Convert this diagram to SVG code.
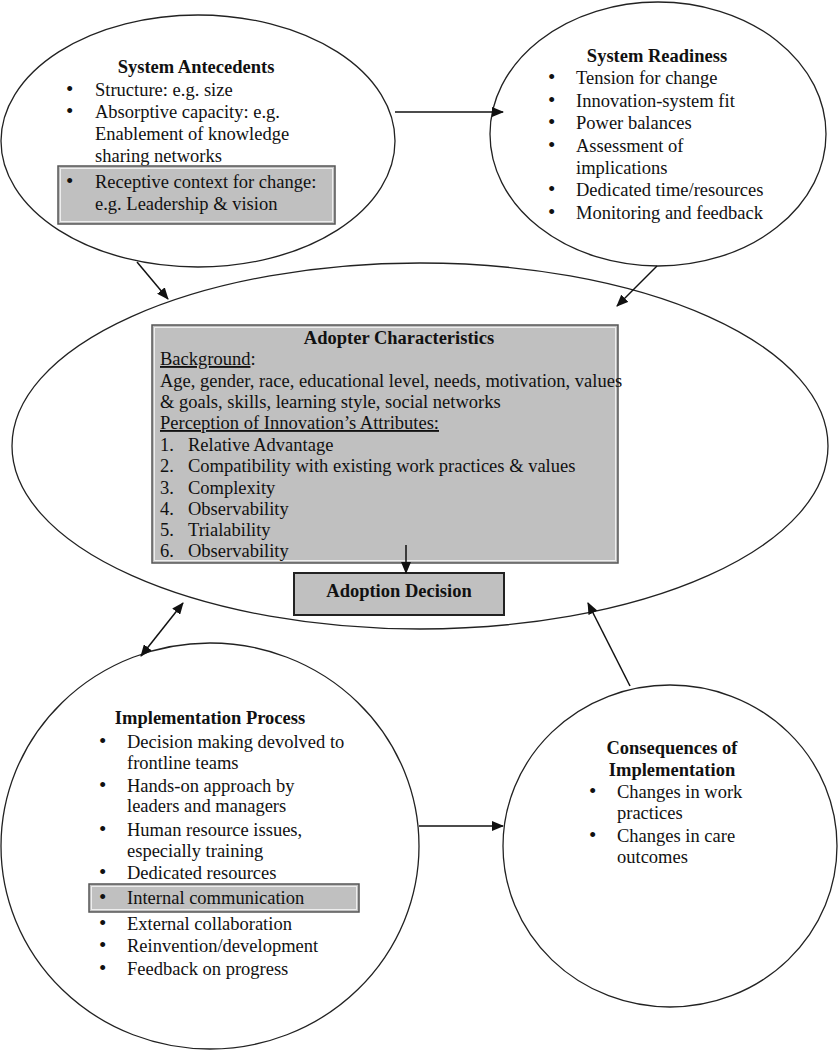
<svg xmlns="http://www.w3.org/2000/svg" width="840" height="1050" viewBox="0 0 840 1050">
<style>
text{font-family:"Liberation Serif","Times New Roman",serif;font-size:18.5px;fill:#111}
.b{font-weight:bold}
.m{text-anchor:middle}
.u{font-size:21px}
.sh{fill:#fff;stroke:#222;stroke-width:1.3}
.gb{fill:#c0c0c0;stroke:#555;stroke-width:1.5}
.gi{fill:none;stroke:#eee;stroke-width:1}
.c{stroke:#111;stroke-width:1.5;fill:none}
</style>
<defs>
<marker id="ah" markerUnits="userSpaceOnUse" markerWidth="12" markerHeight="10" refX="11" refY="5" orient="auto-start-reverse">
<path d="M0,0 L12,5 L0,10 Z" fill="#111"/>
</marker>
</defs>
<g id="antecedents">
<ellipse class="sh" cx="198" cy="141" rx="197" ry="126"/>
<text class="b m" x="196" y="73">System Antecedents</text>
<text x="66" y="96"><tspan class="u">•</tspan><tspan x="95">Structure: e.g. size</tspan></text>
<text x="66" y="118"><tspan class="u">•</tspan><tspan x="95">Absorptive capacity: e.g.</tspan></text>
<text x="95" y="140">Enablement of knowledge</text>
<text x="95" y="162">sharing networks</text>
<rect class="gb" x="58" y="166" width="277" height="58"/>
<rect class="gi" x="60.5" y="168.5" width="272" height="53"/>
<text x="66" y="188"><tspan class="u">•</tspan><tspan x="95">Receptive context for change:</tspan></text>
<text x="95" y="210">e.g. Leadership &amp; vision</text>
</g>
<g id="readiness">
<ellipse class="sh" cx="658" cy="134" rx="168" ry="132"/>
<text class="b m" x="657" y="62">System Readiness</text>
<text x="548" y="84"><tspan class="u">•</tspan><tspan x="576">Tension for change</tspan></text>
<text x="548" y="107"><tspan class="u">•</tspan><tspan x="576">Innovation-system fit</tspan></text>
<text x="548" y="129"><tspan class="u">•</tspan><tspan x="576">Power balances</tspan></text>
<text x="548" y="152"><tspan class="u">•</tspan><tspan x="576">Assessment of</tspan></text>
<text x="576" y="174">implications</text>
<text x="548" y="196"><tspan class="u">•</tspan><tspan x="576">Dedicated time/resources</tspan></text>
<text x="548" y="219"><tspan class="u">•</tspan><tspan x="576">Monitoring and feedback</tspan></text>
</g>
<g id="adopter">
<ellipse class="sh" cx="420" cy="446" rx="408" ry="183"/>
<rect class="gb" x="152" y="325" width="466" height="238"/>
<rect class="gi" x="154.5" y="327.5" width="461" height="233"/>
<text class="b m" x="399" y="344">Adopter Characteristics</text>
<text x="160" y="365"><tspan text-decoration="underline">Background</tspan>:</text>
<text x="160" y="387">Age, gender, race, educational level, needs, motivation, values</text>
<text x="160" y="408">&amp; goals, skills, learning style, social networks</text>
<text x="160" y="429" text-decoration="underline">Perception of Innovation’s Attributes:</text>
<text x="160" y="451">1.<tspan x="188">Relative Advantage</tspan></text>
<text x="160" y="472">2.<tspan x="188">Compatibility with existing work practices &amp; values</tspan></text>
<text x="160" y="494">3.<tspan x="188">Complexity</tspan></text>
<text x="160" y="515">4.<tspan x="188">Observability</tspan></text>
<text x="160" y="536">5.<tspan x="188">Trialability</tspan></text>
<text x="160" y="557">6.<tspan x="188">Observability</tspan></text>
</g>
<g id="decision">
<rect x="294" y="573" width="210" height="42" fill="#c0c0c0" stroke="#222" stroke-width="2"/>
<text class="b m" x="399" y="597">Adoption Decision</text>
</g>
<g id="implementation">
<ellipse class="sh" cx="210" cy="846" rx="209" ry="203"/>
<text class="b m" x="210" y="724">Implementation Process</text>
<text x="99" y="748"><tspan class="u">•</tspan><tspan x="127">Decision making devolved to</tspan></text>
<text x="127" y="769">frontline teams</text>
<text x="99" y="792"><tspan class="u">•</tspan><tspan x="127">Hands-on approach by</tspan></text>
<text x="127" y="812">leaders and managers</text>
<text x="99" y="836"><tspan class="u">•</tspan><tspan x="127">Human resource issues,</tspan></text>
<text x="127" y="857">especially training</text>
<text x="99" y="879"><tspan class="u">•</tspan><tspan x="127">Dedicated resources</tspan></text>
<rect class="gb" x="89" y="884" width="270" height="28"/>
<rect class="gi" x="91.5" y="886.5" width="265" height="23"/>
<text x="99" y="904"><tspan class="u">•</tspan><tspan x="127">Internal communication</tspan></text>
<text x="99" y="930"><tspan class="u">•</tspan><tspan x="127">External collaboration</tspan></text>
<text x="99" y="952"><tspan class="u">•</tspan><tspan x="127">Reinvention/development</tspan></text>
<text x="99" y="975"><tspan class="u">•</tspan><tspan x="127">Feedback on progress</tspan></text>
</g>
<g id="consequences">
<ellipse class="sh" cx="670" cy="846" rx="167" ry="161"/>
<text class="b m" x="672" y="754">Consequences of</text>
<text class="b m" x="672" y="776">Implementation</text>
<text x="589" y="798"><tspan class="u">•</tspan><tspan x="617">Changes in work</tspan></text>
<text x="617" y="819">practices</text>
<text x="589" y="842"><tspan class="u">•</tspan><tspan x="617">Changes in care</tspan></text>
<text x="617" y="863">outcomes</text>
</g>
<g id="connectors">
<line class="c" x1="395" y1="112" x2="503" y2="112" marker-end="url(#ah)"/>
<line class="c" x1="137" y1="262" x2="168" y2="299" marker-end="url(#ah)"/>
<line class="c" x1="657" y1="266" x2="617" y2="306" marker-end="url(#ah)"/>
<line class="c" x1="406" y1="545" x2="406" y2="573" marker-end="url(#ah)"/>
<line class="c" x1="141" y1="656" x2="183" y2="603" marker-start="url(#ah)" marker-end="url(#ah)"/>
<line class="c" x1="419" y1="826" x2="503" y2="826" marker-end="url(#ah)"/>
<line class="c" x1="630" y1="686" x2="588" y2="603" marker-end="url(#ah)"/>
</g>
</svg>
